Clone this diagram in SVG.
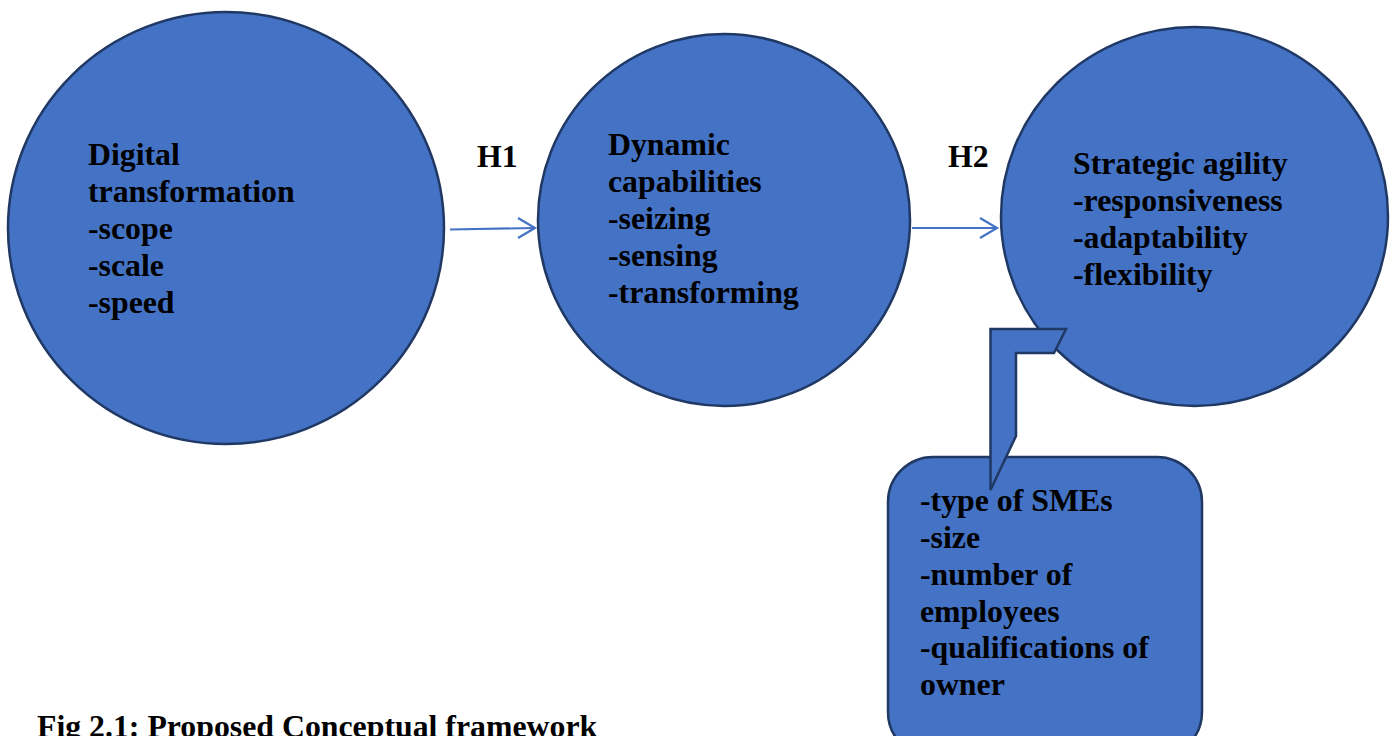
<svg xmlns="http://www.w3.org/2000/svg" width="1395" height="736" viewBox="0 0 1395 736">
<style>
.n{fill:#4472C4;stroke:#203864;stroke-width:2.5}
.t{font-family:"Liberation Serif","Times New Roman",serif;font-weight:bold;font-size:31.8px;fill:#000}
.c{fill:none;stroke:#4472C4;stroke-width:2.2}
</style>
<rect width="1395" height="736" fill="#fff"/>
<g id="dt">
<ellipse class="n" cx="226" cy="228" rx="218" ry="216"/>
<text class="t" x="88" y="165">Digital</text>
<text class="t" x="88" y="202">transformation</text>
<text class="t" x="88" y="239">-scope</text>
<text class="t" x="88" y="276">-scale</text>
<text class="t" x="88" y="313">-speed</text>
</g>
<g id="dc">
<ellipse class="n" cx="724" cy="220" rx="186" ry="186"/>
<text class="t" x="608" y="155">Dynamic</text>
<text class="t" x="608" y="192">capabilities</text>
<text class="t" x="608" y="229">-seizing</text>
<text class="t" x="608" y="266">-sensing</text>
<text class="t" x="608" y="303">-transforming</text>
</g>
<g id="sa">
<ellipse class="n" cx="1194.5" cy="216.5" rx="193.5" ry="189.5"/>
<text class="t" x="1073" y="174">Strategic agility</text>
<text class="t" x="1073" y="211">-responsiveness</text>
<text class="t" x="1073" y="248">-adaptability</text>
<text class="t" x="1073" y="285">-flexibility</text>
</g>
<g id="ctrl">
<rect class="n" x="888" y="457" width="314" height="300" rx="45" ry="45"/>
<polygon class="n" points="990.5,329 1066,329 1054,353 1016,353 1016,436 990.5,490"/>
<text class="t" x="920" y="511">-type of SMEs</text>
<text class="t" x="920" y="548">-size</text>
<text class="t" x="920" y="585">-number of</text>
<text class="t" x="920" y="622">employees</text>
<text class="t" x="920" y="658">-qualifications of</text>
<text class="t" x="920" y="695">owner</text>
</g>
<g id="connectors">
<line class="c" x1="450" y1="229.5" x2="535" y2="228"/>
<polyline class="c" points="518,218 535,228 518,238"/>
<line class="c" x1="912" y1="228" x2="997" y2="228"/>
<polyline class="c" points="980,218 997,228 980,238"/>
</g>
<g id="labels">
<text class="t" x="477" y="167">H1</text>
<text class="t" x="948" y="167">H2</text>
<text class="t" x="37" y="737">Fig 2.1: Proposed Conceptual framework</text>
</g>
</svg>
